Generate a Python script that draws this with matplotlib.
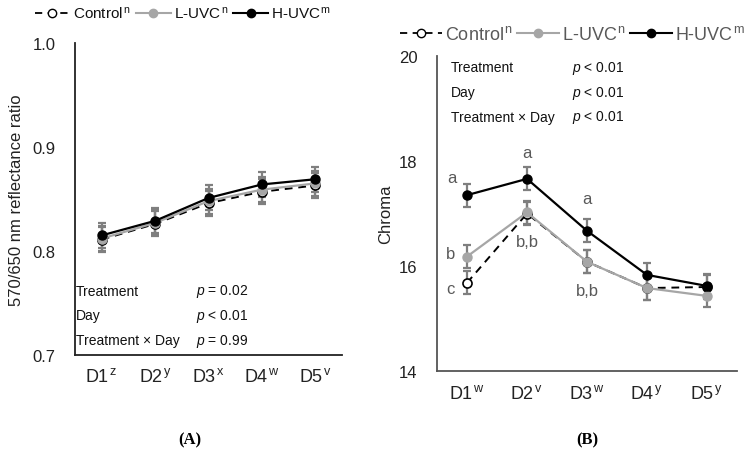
import matplotlib
matplotlib.use("Agg")
import matplotlib.pyplot as plt
from matplotlib.lines import Line2D

plt.rcParams['font.family'] = ['Liberation Sans', 'DejaVu Sans']
plt.rcParams['mathtext.fontset'] = 'custom'
plt.rcParams['mathtext.rm'] = 'Liberation Sans'
plt.rcParams['mathtext.it'] = 'Liberation Sans:italic'

days = ["D1", "D2", "D3", "D4", "D5"]
sup_a = ["z", "y", "x", "w", "v"]
sup_b = ["w", "v", "w", "y", "y"]

# Panel A: 570/650 nm reflectance ratio
a_control = [0.811, 0.826, 0.846, 0.857, 0.863]
a_luvc = [0.812, 0.827, 0.848, 0.859, 0.865]
a_huvc = [0.815, 0.829, 0.851, 0.864, 0.869]
a_err = [0.012, 0.012, 0.012, 0.012, 0.012]

# Panel B: Chroma
b_control = [15.68, 17.00, 16.08, 15.58, 15.60]
b_luvc = [16.18, 17.02, 16.08, 15.58, 15.43]
b_huvc = [17.35, 17.66, 16.67, 15.83, 15.62]
b_err_control = [0.22, 0.22, 0.22, 0.22, 0.22]
b_err_luvc = [0.22, 0.22, 0.22, 0.22, 0.22]
b_err_huvc = [0.22, 0.22, 0.22, 0.22, 0.22]

legend_labels = ["Control", "L-UVC", "H-UVC"]
legend_sups = ["n", "n", "m"]

stats_names = ["Treatment", "Day", "Treatment \u00d7 Day"]
stats_a = ["= 0.02", "< 0.01", "= 0.99"]
stats_b = ["< 0.01", "< 0.01", "< 0.01"]

letters_huvc = ["a", "a", "a"]
letters_luvc = ["b", "b,b", "b,b"]
letters_control = ["c"]

ERRC = "#7f7f7f"
LGRAY = "#a6a6a6"
TXTG = "#595959"

fig = plt.figure(figsize=(7.51, 4.56), dpi=100)
axA = fig.add_axes([0.0999, 0.2193, 0.3555, 0.6842])
axB = fig.add_axes([0.5819, 0.1842, 0.3995, 0.6908])

x = list(range(5))


def draw(ax, ctrl, luvc, huvc, ec, el, eh):
    for vals, err in ((ctrl, ec), (luvc, el), (huvc, eh)):
        ax.errorbar(x, vals, yerr=err, fmt='none', ecolor=ERRC, elinewidth=1.6,
                    capsize=3, capthick=1.6, zorder=2)
    ax.plot(x, ctrl, ls=(0, (4, 3)), color='black', lw=1.4, marker='o',
            mfc='white', mec='black', ms=6.5, mew=1.2, zorder=3)
    ax.plot(x, luvc, ls='-', color=LGRAY, lw=1.6, marker='o',
            mfc=LGRAY, mec=LGRAY, ms=6.5, zorder=4)
    ax.plot(x, huvc, ls='-', color='black', lw=1.6, marker='o',
            mfc='black', mec='black', ms=6.5, zorder=5)
    ax.set_xlim(-0.5, 4.5)
    for s in ['top', 'right']:
        ax.spines[s].set_visible(False)
    ax.tick_params(length=0)


def xlab(d, s):
    return f"{d}$^{{\\,\\mathrm{{{s}}}}}$"


draw(axA, a_control, a_luvc, a_huvc, a_err, a_err, a_err)
axA.set_ylim(0.7, 1.0)
axA.set_yticks([0.7, 0.8, 0.9, 1.0])
axA.set_yticklabels(["0.7", "0.8", "0.9", "1.0"], fontsize=12, color='#222222')
axA.set_xticks(x)
axA.set_xticklabels([xlab(d, s) for d, s in zip(days, sup_a)],
                    fontsize=13, color='#222222')
axA.tick_params(axis='x', pad=9)
axA.tick_params(axis='y', pad=14)
axA.set_ylabel("570/650 nm reflectance ratio", fontsize=12, color='#222222', labelpad=6)
for s in ['left', 'bottom']:
    axA.spines[s].set_color('#222222')
    axA.spines[s].set_linewidth(1.3)

draw(axB, b_control, b_luvc, b_huvc, b_err_control, b_err_luvc, b_err_huvc)
axB.set_ylim(14, 20)
axB.set_yticks([14, 16, 18, 20])
axB.set_yticklabels(["14", "16", "18", "20"], fontsize=12, color='#222222')
axB.set_xticks(x)
axB.set_xticklabels([xlab(d, s) for d, s in zip(days, sup_b)],
                    fontsize=13, color='#222222')
axB.tick_params(axis='x', pad=9)
axB.tick_params(axis='y', pad=14)
axB.set_ylabel("Chroma", fontsize=12, color='#222222', labelpad=4)
for s in ['left', 'bottom']:
    axB.spines[s].set_color('#555555')
    axB.spines[s].set_linewidth(1.3)

# stats text
for i, (nm, pv) in enumerate(zip(stats_names, stats_a)):
    yy = 292 + i * 24.5
    fig.text(76 / 751, 1 - yy / 456, nm, fontsize=10, va='center', ha='left', color='#111111')
    fig.text(196 / 751, 1 - yy / 456, f"$\\mathit{{p}}$ {pv}", fontsize=10, va='center',
             ha='left', color='#111111')
for i, (nm, pv) in enumerate(zip(stats_names, stats_b)):
    yy = 68.5 + i * 24.7
    fig.text(451 / 751, 1 - yy / 456, nm, fontsize=10, va='center', ha='left', color='#111111')
    fig.text(572 / 751, 1 - yy / 456, f"$\\mathit{{p}}$ {pv}", fontsize=10, va='center',
             ha='left', color='#111111')

# letters panel B
lkw = dict(fontsize=12, color=TXTG, ha='center', va='center')
axB.text(-0.25, b_huvc[0] + 0.34, letters_huvc[0], **lkw)
axB.text(1.0, b_huvc[1] + 0.5, letters_huvc[1], **lkw)
axB.text(2.0, b_huvc[2] + 0.62, letters_huvc[2], **lkw)
axB.text(-0.27, b_luvc[0] + 0.05, letters_luvc[0], **lkw)
axB.text(1.0, b_luvc[1] - 0.55, letters_luvc[1], **lkw)
axB.text(2.0, b_luvc[2] - 0.55, letters_luvc[2], **lkw)
axB.text(-0.27, b_control[0] - 0.1, letters_control[0], **lkw)


def handles():
    return [
        Line2D([], [], ls=(0, (4, 3)), color='black', lw=1.3, marker='o', mfc='white',
               mec='black', ms=6),
        Line2D([], [], ls='-', color=LGRAY, lw=1.5, marker='o', mfc=LGRAY, mec=LGRAY, ms=6),
        Line2D([], [], ls='-', color='black', lw=1.5, marker='o', mfc='black', mec='black', ms=6),
    ]


labs = [f"{l}$^{{\\,\\mathrm{{{s}}}}}$" for l, s in zip(legend_labels, legend_sups)]
legA = fig.legend(handles(), labs, loc='center', bbox_to_anchor=(183 / 751, 1 - 14 / 456),
                  ncol=3, frameon=False, fontsize=11, handlelength=2.3, handletextpad=0.2,
                  columnspacing=0.3)
for t in legA.get_texts():
    t.set_color('#111111')
legB = fig.legend(handles(), labs, loc='center', bbox_to_anchor=(573 / 751, 1 - 35 / 456),
                  ncol=3, frameon=False, fontsize=13, handlelength=2.3, handletextpad=0.2,
                  columnspacing=0.2)
for t in legB.get_texts():
    t.set_color(TXTG)

fig.text(190 / 751, 1 - 440 / 456, "(A)", fontsize=12, fontweight='bold',
         family='Liberation Serif', ha='center', va='center')
fig.text(587 / 751, 1 - 440 / 456, "(B)", fontsize=12, fontweight='bold',
         family='Liberation Serif', ha='center', va='center')

fig.savefig("out.png", dpi=100)
